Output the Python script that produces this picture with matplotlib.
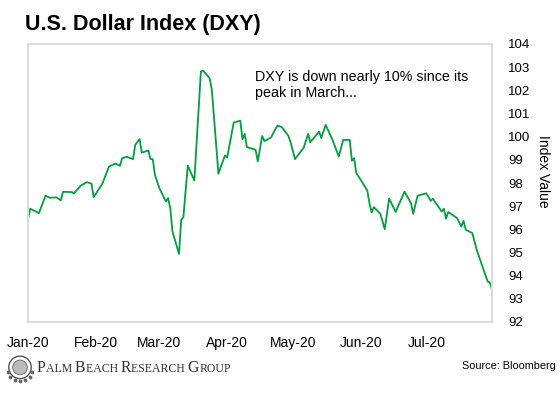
import numpy as np
import matplotlib
matplotlib.use('Agg')
import matplotlib.pyplot as plt
import matplotlib.dates as mdates
from matplotlib.patches import Circle

dates = ['2020-01-01', '2020-01-02', '2020-01-06', '2020-01-09', '2020-01-11', '2020-01-14', '2020-01-16',
         '2020-01-17', '2020-01-21', '2020-01-22', '2020-01-25', '2020-01-28', '2020-01-30', '2020-01-31',
         '2020-02-04', '2020-02-07', '2020-02-10', '2020-02-12', '2020-02-13', '2020-02-15', '2020-02-18',
         '2020-02-19', '2020-02-21', '2020-02-22', '2020-02-25', '2020-02-26', '2020-02-27', '2020-02-28',
         '2020-03-01', '2020-03-04', '2020-03-05', '2020-03-06', '2020-03-07', '2020-03-10', '2020-03-11',
         '2020-03-12', '2020-03-14', '2020-03-17', '2020-03-20', '2020-03-21', '2020-03-24', '2020-03-25',
         '2020-03-28', '2020-03-31', '2020-04-01', '2020-04-04', '2020-04-07', '2020-04-08', '2020-04-09',
         '2020-04-10', '2020-04-14', '2020-04-15', '2020-04-17', '2020-04-18', '2020-04-21', '2020-04-23',
         '2020-04-24', '2020-04-26', '2020-04-29', '2020-04-30', '2020-05-02', '2020-05-06', '2020-05-08',
         '2020-05-09', '2020-05-13', '2020-05-14', '2020-05-16', '2020-05-19', '2020-05-22', '2020-05-24',
         '2020-05-27', '2020-05-28', '2020-05-29', '2020-05-30', '2020-06-01', '2020-06-04', '2020-06-05',
         '2020-06-06', '2020-06-07', '2020-06-10', '2020-06-12', '2020-06-14', '2020-06-17', '2020-06-21',
         '2020-06-24', '2020-06-25', '2020-06-27', '2020-07-01', '2020-07-03', '2020-07-04', '2020-07-08',
         '2020-07-09', '2020-07-10', '2020-07-11', '2020-07-15', '2020-07-17', '2020-07-18', '2020-07-19',
         '2020-07-22', '2020-07-24', '2020-07-29', '2020-07-30', '2020-07-31']

dxy = [96.44, 96.89, 96.70, 97.45, 97.36, 97.38, 97.25, 97.62, 97.61, 97.55, 97.88, 98.04, 97.97, 97.39,
       97.97, 98.71, 98.84, 98.74, 99.07, 99.13, 99.03, 99.65, 99.89, 99.31, 99.40, 99.03, 99.03, 98.35,
       97.78, 97.20, 97.35, 96.92, 95.91, 94.94, 96.41, 96.53, 98.75, 98.11, 102.81, 102.85, 102.52, 102.02,
       98.40, 99.19, 99.10, 100.61, 100.69, 99.89, 100.12, 99.55, 99.43, 98.93, 100.03, 99.81, 99.96, 100.32,
       100.48, 100.41, 100.03, 99.75, 99.03, 99.53, 100.12, 99.76, 100.22, 99.94, 100.51, 99.89, 99.14, 99.86,
       99.86, 98.96, 99.07, 98.43, 98.14, 97.68, 97.13, 96.73, 96.96, 96.67, 96.01, 97.33, 96.75, 97.63,
       97.13, 96.67, 97.45, 97.56, 97.23, 97.32, 96.77, 96.89, 96.46, 96.75, 96.49, 96.12, 96.37, 95.98,
       95.84, 95.12, 93.75, 93.71, 93.40]

month_ticks = ['2020-01-01', '2020-02-01', '2020-03-01', '2020-04-01', '2020-05-01', '2020-06-01', '2020-07-01']
y_ticks = list(range(92, 105))

plt.rcParams['font.family'] = ['Liberation Sans', 'DejaVu Sans']

W, H = 560, 396
fig = plt.figure(figsize=(W / 100, H / 100), dpi=100)
ax = fig.add_axes([28 / W, 1 - 322 / H, 464 / W, 278 / H])

x = np.array(dates, dtype='datetime64[D]')
ax.plot(x, dxy, color='#00a03c', lw=1.3)

ax.set_xlim(np.datetime64('2020-01-01'), np.datetime64('2020-07-31'))
ax.set_ylim(92, 104)
ax.set_xticks(np.array(month_ticks, dtype='datetime64[D]'))
ax.xaxis.set_major_formatter(mdates.DateFormatter('%b-%y'))
ax.yaxis.tick_right()
ax.set_yticks(y_ticks)
ax.tick_params(axis='y', length=0, pad=11.5, labelsize=9.5, colors='black')
ax.tick_params(axis='x', length=0, pad=10, labelsize=10, colors='black')
for s in ax.spines.values():
    s.set_color('#dcdcdc')
    s.set_linewidth(1.5)

# titel en teksten
fig.text(25 / W, 1 - 30 / H, 'U.S. Dollar Index (DXY)', fontsize=15.5, fontweight='bold', va='baseline')
fig.text(255 / W, 1 - 81 / H, 'DXY is down nearly 10% since its', fontsize=10.3, va='baseline')
fig.text(255 / W, 1 - 97.5 / H, 'peak in March...', fontsize=10.3, va='baseline')
fig.text(543 / W, 1 - 171 / H, 'Index Value', fontsize=10, rotation=-90, ha='center', va='center')
fig.text(556 / W, 1 - 369 / H, 'Source: Bloomberg', fontsize=7.8, ha='right', va='baseline')

# logo tekst in klein kapitaal
renderer = fig.canvas.get_renderer()
xpos = 37
parts = [('P', 11.3), ('ALM ', 8.5), ('B', 11.3), ('EACH ', 8.5), ('R', 11.3), ('ESEARCH ', 8.5),
         ('G', 11.3), ('ROUP', 8.5)]
for txt, fs in parts:
    t = fig.text(xpos / W, 1 - 372 / H, txt, fontsize=fs, family=['Liberation Serif', 'DejaVu Serif'],
                 color='#333333', va='baseline')
    xpos = t.get_window_extent(renderer).x1

# embleem
lax = fig.add_axes([7 / W, 1 - 384 / H, 26 / W, 32 / H])
lax.set_xlim(-1.1, 1.1)
lax.set_ylim(-1.35, 1.35)
lax.set_aspect('equal')
lax.axis('off')
lax.add_patch(Circle((0, 0.05), 0.95, fill=False, ec='#555555', lw=1.0))
lax.add_patch(Circle((0, 0.05), 0.62, fc='#bbbbbb', ec='#666666', lw=0.6))
ang = np.linspace(np.pi * 1.1, np.pi * 1.9, 7)
lax.scatter(1.1 * np.cos(ang), 1.1 * np.sin(ang), s=3, color='#666666')

fig.savefig('out.png', dpi=100)
